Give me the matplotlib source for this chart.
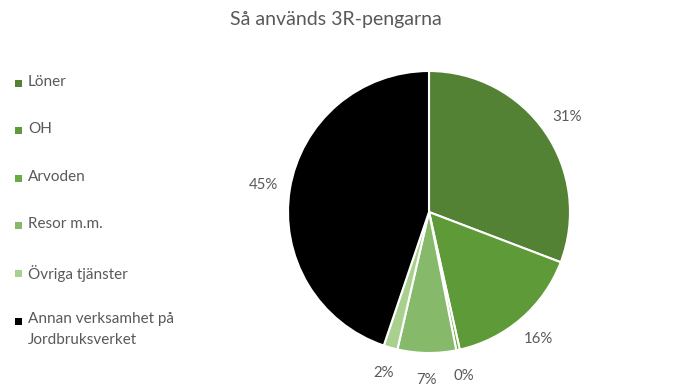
import matplotlib
matplotlib.use("Agg")
import matplotlib.pyplot as plt
from matplotlib.patches import Rectangle

# Share of 3R money per category (percent)
categories = ["Löner", "OH", "Arvoden", "Resor m.m.", "Övriga tjänster",
              "Annan verksamhet på\nJordbruksverket"]
shares = [30.8, 15.7, 0.4, 6.7, 1.6, 44.8]
colors = ["#548235", "#5e9a38", "#6aaa42", "#87b96a", "#a9d08e", "#000000"]

W, H = 675, 389
fig = plt.figure(figsize=(W / 100, H / 100), dpi=100)
plt.rcParams['font.family'] = ['Lato', 'DejaVu Sans']
text_color = "#595959"

# pie axes placed by pixel centre/radius
cx, cy, r = 429, 212, 141
ax = fig.add_axes([(cx - r) / W, (H - cy - r) / H, 2 * r / W, 2 * r / H])
wedges, texts, autotexts = ax.pie(
    shares, colors=colors, startangle=90, counterclock=False,
    autopct=lambda p: f"{p:.0f}%", pctdistance=1.19,
    wedgeprops=dict(edgecolor="white", linewidth=1.5),
    textprops=dict(color=text_color, fontsize=10.8),
)
ax.set_xlim(-1, 1)
ax.set_ylim(-1, 1)
ax.set_aspect("equal")
ax.axis("off")

fig.text(336 / W, 1 - 20 / H, "Så används 3R-pengarna", ha="center", va="center",
         fontsize=14, color=text_color)

# legend drawn by hand to match the spacing
for i, (label, col) in enumerate(zip(categories, colors)):
    y = 83 + i * 47.6
    fig.patches.append(Rectangle((15 / W, 1 - (y + 3.5) / H), 7 / W, 7 / H,
                                 transform=fig.transFigure, facecolor=col, edgecolor="none"))
    fig.text(28 / W, 1 - (y - 8.5) / H, label, ha="left", va="top", fontsize=11,
             color=text_color, linespacing=1.6)

fig.savefig("out.png", dpi=100)
